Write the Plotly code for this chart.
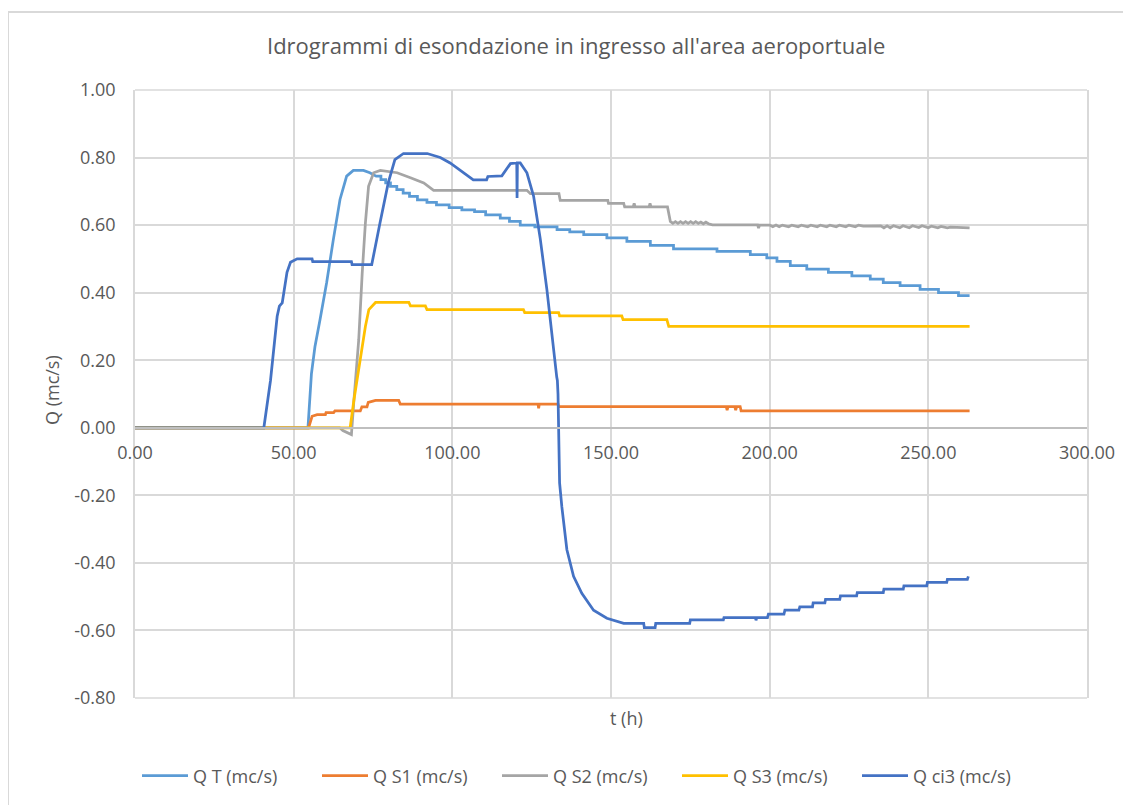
import plotly.graph_objects as go

# ---------------- data ----------------
series_names = ["Q T (mc/s)", "Q S1 (mc/s)", "Q S2 (mc/s)", "Q S3 (mc/s)", "Q ci3 (mc/s)"]
series_colors = ["#5B9BD5", "#ED7D31", "#A5A5A5", "#FFC000", "#4472C4"]

# Q T : rising limb (linear points) then step recession (start time, level)
qt_rise_t = [0, 54.5, 55.6, 56.7, 58.3, 60.4, 62.5, 64.6, 66.7, 68.8, 72.0, 74.0, 76.0]
qt_rise_q = [0, 0, 0.16, 0.24, 0.32, 0.43, 0.557, 0.676, 0.745, 0.762, 0.762, 0.755, 0.745]
qt_step_t = [77.5, 79.0, 80.5, 82.5, 84.5, 86.5, 89.0, 92.0, 95.0, 99.0, 103.0, 107.0, 110.5,
             115.1, 118.0, 121.4, 126.0, 133.0, 137.0, 141.4, 148.7, 155.0, 162.4, 169.7,
             183.4, 193.9, 199.1, 202.3, 206.5, 211.7, 218.5, 225.9, 231.7, 235.8, 241.1,
             247.4, 253.2, 259.5]
qt_step_q = [0.735, 0.725, 0.715, 0.705, 0.695, 0.685, 0.675, 0.667, 0.660, 0.652, 0.645, 0.640, 0.630,
             0.621, 0.611, 0.600, 0.595, 0.587, 0.580, 0.572, 0.562, 0.552, 0.540, 0.530,
             0.522, 0.513, 0.503, 0.493, 0.480, 0.470, 0.460, 0.450, 0.440, 0.430, 0.421,
             0.410, 0.400, 0.391]
qt_end_t = 263.0

# Q S1
qs1_t = [0, 54.7, 55.8, 57.4, 60.0, 60.2, 62.6, 63.0, 71.0, 71.5, 73.1, 73.5, 75.8, 83.1, 83.6,
         127.0, 127.2, 127.4, 133.3, 133.5, 186.3, 186.6, 186.9, 189.0, 189.3, 189.6, 190.7,
         191.0, 263.0]
qs1_q = [0, 0, 0.034, 0.039, 0.039, 0.045, 0.045, 0.050, 0.050, 0.062, 0.062, 0.075, 0.081, 0.081, 0.070,
         0.070, 0.058, 0.070, 0.070, 0.063, 0.063, 0.052, 0.063, 0.063, 0.052, 0.063, 0.063,
         0.050, 0.050]

# Q S2
qs2_t = [0, 64.5, 65.5, 67.9, 68.2, 69.0, 70.5, 71.6, 72.6, 73.6, 75.2, 77.3, 79.4, 82.6, 86.8,
         91.0, 94.1, 123.5, 124.6, 133.6, 134.0, 149.0, 149.2, 154.0, 154.3, 157.0, 157.3,
         157.6, 162.0, 162.3, 162.6, 167.8, 168.7,
         169.5, 170.3, 171.1, 171.9, 172.7, 173.5, 174.3, 175.1, 175.9, 176.7, 177.5, 178.3,
         179.1, 179.9, 180.7, 182.0, 196.2, 196.5, 196.8, 200.0,
         201.0, 202.0, 203.0, 204.0, 206.0, 207.0, 209.0, 210.0, 212.0, 213.0, 215.0, 216.0,
         218.0, 219.0, 221.0, 222.0, 224.0, 225.0, 227.0, 228.0, 229.5, 235.0,
         236.0, 237.0, 238.0, 239.0, 241.0, 242.0, 244.0, 245.0, 247.0, 248.0, 250.0, 251.0,
         253.0, 254.0, 256.0, 257.0, 263.0]
qs2_q = [0, 0, -0.008, -0.020, -0.020, 0.083, 0.260, 0.458, 0.606, 0.715, 0.755, 0.762, 0.760, 0.755, 0.740,
         0.725, 0.703, 0.703, 0.693, 0.693, 0.673, 0.673, 0.664, 0.664, 0.654, 0.654, 0.664,
         0.654, 0.654, 0.664, 0.654, 0.654, 0.611,
         0.605, 0.610, 0.605, 0.610, 0.605, 0.610, 0.605, 0.610, 0.605, 0.610, 0.605, 0.609,
         0.604, 0.609, 0.604, 0.601, 0.601, 0.591, 0.600, 0.600,
         0.595, 0.600, 0.595, 0.600, 0.595, 0.600, 0.595, 0.600, 0.595, 0.600, 0.595, 0.600,
         0.595, 0.600, 0.595, 0.600, 0.595, 0.600, 0.595, 0.600, 0.597, 0.598,
         0.592, 0.598, 0.592, 0.598, 0.592, 0.598, 0.592, 0.598, 0.593, 0.598, 0.592, 0.597,
         0.592, 0.596, 0.592, 0.594, 0.592]

# Q S3
qs3_t = [0, 67.8, 69.0, 71.0, 72.6, 73.7, 75.8, 86.3, 86.8, 91.5, 92.0, 122.4, 122.8, 133.5,
         133.8, 153.4, 153.8, 167.6, 168.2, 263.0]
qs3_q = [0, 0, 0.083, 0.211, 0.300, 0.350, 0.371, 0.371, 0.361, 0.361, 0.350, 0.350, 0.341, 0.341,
         0.331, 0.331, 0.320, 0.320, 0.300, 0.300]

# Q ci3
qci3_t = [0, 40.6, 42.7, 44.8, 45.5, 46.4, 47.9, 49.0, 51.1, 55.8, 56.0, 68.2, 68.4, 74.6,
          77.2, 79.8, 81.9, 84.6, 92.1, 96.2, 99.3, 103.5, 106.6, 110.8, 111.2, 115.6,
          118.3, 120.3, 120.4, 120.5, 121.4, 123.5, 125.6, 127.7, 129.8, 131.2, 132.3,
          132.9, 133.1, 133.3, 133.5, 133.7, 133.8, 134.5, 136.1, 138.2, 140.8, 144.5,
          148.7, 154.0, 160.3, 160.5, 163.9, 164.1, 174.8, 175.0, 185.4, 185.6, 195.5,
          195.7, 195.9, 199.3, 199.6, 204.5, 204.8, 209.2, 209.5, 213.5, 213.7, 217.4,
          217.6, 222.1, 222.3, 227.4, 227.6, 235.8, 236.0, 242.1, 242.3, 249.5, 249.7,
          255.8, 256.0, 262.3, 262.6]
qci3_q = [0, 0, 0.14, 0.33, 0.36, 0.37, 0.46, 0.49, 0.50, 0.50, 0.492, 0.492, 0.483, 0.483,
          0.606, 0.725, 0.794, 0.812, 0.812, 0.800, 0.784, 0.755, 0.734, 0.734, 0.744, 0.746,
          0.782, 0.784, 0.680, 0.784, 0.784, 0.755, 0.686, 0.560, 0.409, 0.280, 0.200,
          0.150, 0.140, 0.100, 0.000, -0.100, -0.163, -0.233, -0.361, -0.440, -0.490, -0.540,
          -0.564, -0.579, -0.579, -0.592, -0.592, -0.579, -0.579, -0.569, -0.569, -0.562, -0.562,
          -0.570, -0.562, -0.562, -0.552, -0.552, -0.540, -0.540, -0.530, -0.530, -0.518, -0.518,
          -0.508, -0.508, -0.498, -0.498, -0.488, -0.488, -0.478, -0.478, -0.468, -0.468, -0.458,
          -0.458, -0.449, -0.449, -0.440]

x_ticks = [0, 50, 100, 150, 200, 250, 300]
y_ticks = [-0.8, -0.6, -0.4, -0.2, 0.0, 0.2, 0.4, 0.6, 0.8, 1.0]

title_text = "Idrogrammi di esondazione in ingresso all'area aeroportuale"
x_title = "t (h)"
y_title = "Q (mc/s)"


def build_steps(rise_t, rise_q, step_t, step_q, end_t):
    xs = list(rise_t)
    ys = list(rise_q)
    level = ys[-1]
    for t, q in zip(step_t, step_q):
        xs += [t, t]
        ys += [level, q]
        level = q
    xs.append(end_t)
    ys.append(level)
    return xs, ys


qt_t, qt_q = build_steps(qt_rise_t, qt_rise_q, qt_step_t, qt_step_q, qt_end_t)

series_t = [qt_t, qs1_t, qs2_t, qs3_t, qci3_t]
series_q = [qt_q, qs1_q, qs2_q, qs3_q, qci3_q]

# ---------------- figure ----------------
FONT = "Open Sans"
TXT = "#595959"
GRID = "#D9D9D9"
GW = 1.7

fig = go.Figure()
for name, col, xs, ys in zip(series_names, series_colors, series_t, series_q):
    fig.add_trace(go.Scatter(x=xs, y=ys, mode="lines", name=name,
                             line=dict(color=col, width=2.75)))

OFF = 8  # page body margin
W, H = 1131, 805
ML, MT = 135 - OFF, 90 - OFF
pw, ph = 952, 608
MR, MB = W - ML - pw, H - MT - ph


def px_x(px):
    return (px - OFF - ML) / pw


def px_y(py):
    return (MT + ph - (py - OFF)) / ph


fig.update_layout(
    width=W, height=H,
    margin=dict(l=ML, r=MR, t=MT, b=MB, autoexpand=False),
    paper_bgcolor="white", plot_bgcolor="white",
    font=dict(family=FONT, color=TXT, size=18),
    showlegend=True,
    legend=dict(orientation="h", x=px_x(137), xanchor="left", y=px_y(776), yanchor="middle",
                font=dict(family=FONT, size=18, color=TXT),
                entrywidth=119, entrywidthmode="pixels", itemwidth=46,
                bgcolor="rgba(0,0,0,0)"),
    xaxis=dict(range=[0, 300], tickvals=x_ticks, ticktext=[f"{v:.2f}" for v in x_ticks],
               showgrid=True, gridcolor=GRID, gridwidth=GW,
               showline=True, linecolor="#BFBFBF", linewidth=1.7,
               zeroline=False, anchor="free", position=1 - 1.0 / 1.8,
               ticks="outside", ticklen=9, tickcolor="rgba(0,0,0,0)",
               tickfont=dict(family=FONT, size=18, color=TXT)),
    yaxis=dict(range=[-0.8, 1.0], tickvals=y_ticks, ticktext=[f"{v:.2f}" for v in y_ticks],
               showgrid=True, gridcolor=GRID, gridwidth=GW,
               showline=True, linecolor=GRID, linewidth=GW, mirror=True,
               zeroline=False,
               ticks="outside", ticklen=14, tickcolor="rgba(0,0,0,0)",
               tickfont=dict(family=FONT, size=18, color=TXT)),
    annotations=[
        dict(text=title_text, x=px_x(576), y=px_y(45), xref="paper", yref="paper",
             showarrow=False, font=dict(family=FONT, size=22, color=TXT),
             xanchor="center", yanchor="middle"),
        dict(text=x_title, x=px_x(626), y=px_y(718), xref="paper", yref="paper",
             showarrow=False, font=dict(family=FONT, size=18, color=TXT),
             xanchor="center", yanchor="middle"),
        dict(text=y_title, x=px_x(52), y=px_y(390), xref="paper", yref="paper",
             showarrow=False, textangle=-90, font=dict(family=FONT, size=18, color=TXT),
             xanchor="center", yanchor="middle"),
    ],
    shapes=[
        dict(type="rect", xref="paper", yref="paper",
             x0=px_x(8), x1=px_x(1150), y0=px_y(830), y1=px_y(12),
             line=dict(color=GRID, width=2), fillcolor="rgba(0,0,0,0)", layer="below"),
        dict(type="line", xref="paper", yref="paper",
             x0=0, x1=1, y0=1, y1=1,
             line=dict(color=GRID, width=GW), layer="below"),
        dict(type="line", xref="paper", yref="paper",
             x0=0, x1=1, y0=0, y1=0,
             line=dict(color=GRID, width=GW), layer="below"),
    ],
)

fig.write_html("out.html")
